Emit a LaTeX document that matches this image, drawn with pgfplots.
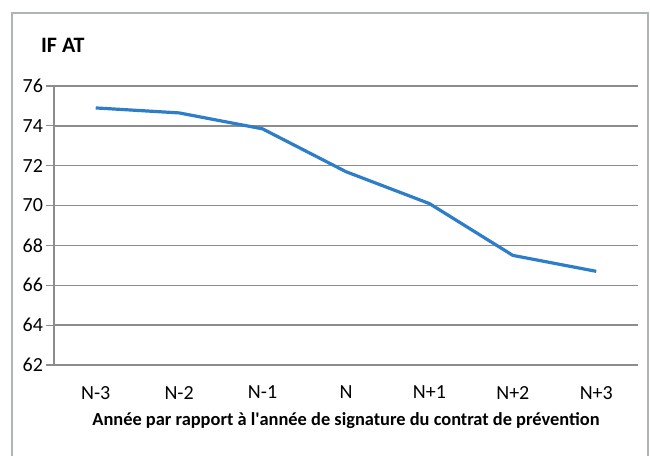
\documentclass[border=0pt]{standalone}
\usepackage{pgfplots}
\pgfplotsset{compat=1.18}
\usepackage{fontspec}
\setmainfont{Carlito}
\definecolor{lineblue}{RGB}{45,125,200}
\definecolor{gridgray}{RGB}{140,140,140}
\definecolor{framegray}{RGB}{175,180,180}
\begin{document}
\begin{tikzpicture}
\begin{axis}[
  at={(0pt,0pt)}, anchor=south west,
  scale only axis,
  width=292pt, height=139.5pt,
  xmin=0, xmax=7,
  ymin=62, ymax=76,
  ytick={62,64,...,76},
  xtick={0.5,1.5,...,6.5},
  xticklabels={N-3,N-2,N-1,N,N+1,N+2,N+3},
  extra x ticks={0,1,...,7},
  extra x tick labels={},
  extra x tick style={major tick length=4pt, tick style={gridgray, line width=0.6pt}, grid=none},
  major x tick style={draw=none},
  ymajorgrids,
  grid style={gridgray, line width=0.75pt},
  axis x line*=bottom,
  axis y line*=left,
  axis line style={gridgray, line width=0.75pt},
  tick style={gridgray, line width=0.6pt},
  tick align=outside,
  major tick length=4pt,
  y tick label style={font=\fontsize{10}{12}\selectfont, xshift=2pt},
  x tick label style={font=\fontsize{10}{12}\selectfont, yshift=-3pt},
  /pgf/number format/assume math mode=true,
  xlabel={\bfseries Année par rapport à l\textquotesingle année de signature du contrat de prévention},
  xlabel style={font=\fontsize{9.2}{11}\selectfont, at={(axis description cs:0.5,0)}, anchor=center, yshift=-28pt},
  clip=false,
]
\addplot[lineblue, line width=1.6pt] coordinates {
  (0.5,74.9) (1.5,74.65) (2.5,73.85) (3.5,71.7) (4.5,70.1) (5.5,67.5) (6.5,66.7)
};
\end{axis}
\node[anchor=west, font=\fontsize{11}{13}\selectfont\bfseries] at (-10pt,160pt) {IF AT};
\draw[framegray, line width=1pt] (-21pt,-60pt) -- (-21pt,176pt) -- (297pt,176pt) -- (297pt,-60pt);
\pgfresetboundingbox
\useasboundingbox (-27pt,-45.5pt) rectangle (298pt,182.5pt);
\end{tikzpicture}
\end{document}
